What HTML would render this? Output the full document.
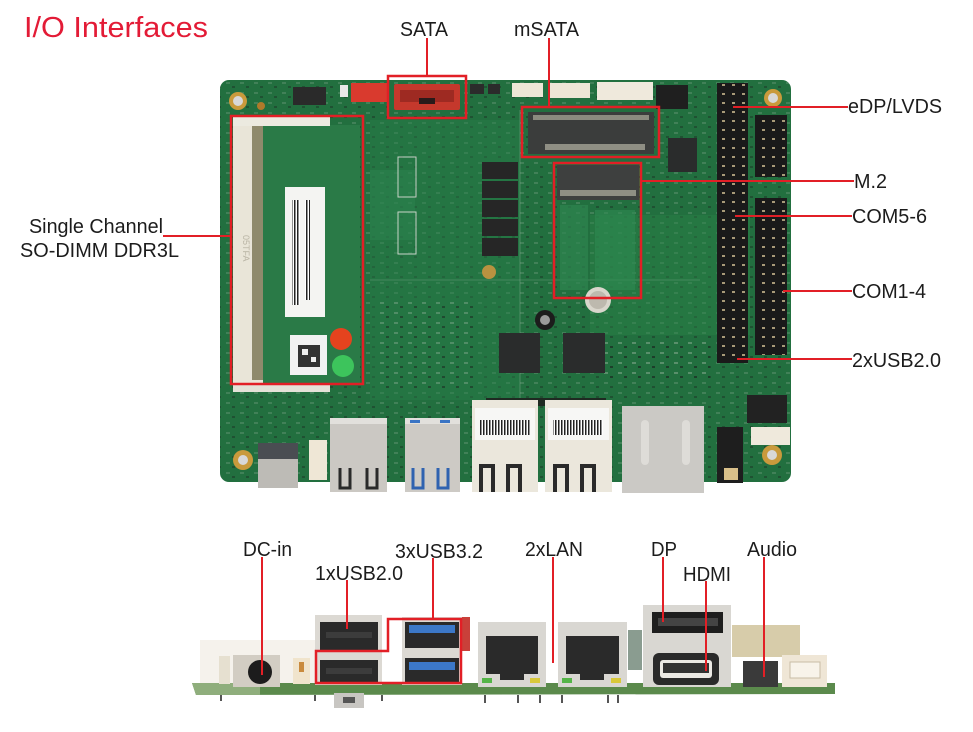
<!DOCTYPE html>
<html><head><meta charset="utf-8"><style>
html,body{margin:0;padding:0;background:#fff;}
svg{display:block;}
text{font-family:"Liberation Sans",Arial,sans-serif;}
</style></head><body>
<svg width="973" height="732" viewBox="0 0 973 732" xmlns="http://www.w3.org/2000/svg">
<defs>
<pattern id="pins" width="10" height="9" patternUnits="userSpaceOnUse">
<rect width="10" height="9" fill="#1a1a1a"/>
<rect x="2" y="3" width="3" height="2" fill="#a89a78"/>
</pattern>
<pattern id="smd" width="14" height="10" patternUnits="userSpaceOnUse">
<rect width="14" height="10" fill="none"/>
<rect x="2" y="2" width="4" height="2" fill="#9fb7a2" opacity="0.25"/>
<rect x="8" y="6" width="3" height="2" fill="#1b1b1b" opacity="0.35"/>
</pattern>
<pattern id="bars" width="3" height="10" patternUnits="userSpaceOnUse">
<rect width="3" height="10" fill="#fff"/>
<rect x="0" y="0" width="1.5" height="10" fill="#222"/>
</pattern>
</defs>
<rect width="973" height="732" fill="#fff"/>

<!-- Title -->
<text x="24" y="37" font-size="29" fill="#e31b36" textLength="184" lengthAdjust="spacingAndGlyphs">I/O Interfaces</text>

<!-- ===== TOP BOARD ===== -->
<rect x="220" y="80" width="571" height="402" rx="9" fill="#226f3f"/>
<rect x="220" y="80" width="571" height="402" rx="9" fill="url(#smd)"/>
<rect x="370" y="120" width="150" height="280" fill="#297d49" opacity="0.45"/>
<rect x="590" y="215" width="160" height="120" fill="#2a8048" opacity="0.45"/>
<rect x="370" y="170" width="45" height="70" fill="#2b8350" opacity="0.5"/>
<rect x="398" y="157" width="18" height="40" fill="none" stroke="#c8d4c8" stroke-width="1"/>
<rect x="398" y="212" width="18" height="42" fill="none" stroke="#c8d4c8" stroke-width="1"/>
<rect x="600" y="340" width="110" height="40" fill="url(#smd)"/>
<rect x="375" y="300" width="100" height="90" fill="url(#smd)"/>
<line x1="520" y1="110" x2="520" y2="400" stroke="#8fb39a" stroke-width="0.8" opacity="0.5"/>
<line x1="370" y1="280" x2="700" y2="280" stroke="#8fb39a" stroke-width="0.8" opacity="0.4"/>

<!-- holes -->
<g>
<circle cx="238" cy="101" r="9" fill="#c99a3c"/><circle cx="238" cy="101" r="5" fill="#d8d8d8"/>
<circle cx="773" cy="98" r="9" fill="#c99a3c"/><circle cx="773" cy="98" r="5" fill="#d8d8d8"/>
<circle cx="243" cy="460" r="10" fill="#c99a3c"/><circle cx="243" cy="460" r="5" fill="#d8d8d8"/>
<circle cx="772" cy="455" r="10" fill="#c99a3c"/><circle cx="772" cy="455" r="5" fill="#d8d8d8"/>
<circle cx="261" cy="106" r="4" fill="#b07a2a"/>
</g>

<!-- DIMM slot & module -->
<rect x="263" y="125" width="97" height="258" fill="#2a7a47"/>
<rect x="233" y="117" width="30" height="268" fill="#e9e5d8"/>
<rect x="252" y="125" width="11" height="255" fill="#8f8a6c"/>
<rect x="233" y="117" width="97" height="9" fill="#eceae0"/>
<rect x="233" y="383" width="97" height="9" fill="#e4e2d8"/>
<text x="238" y="240" font-size="9" fill="#b9b4a4" transform="rotate(90 243 240)">05TFA</text>
<rect x="285" y="187" width="40" height="130" fill="#f4f4f2"/>
<rect x="292" y="200" width="8" height="105" fill="url(#bars)"/>
<rect x="305" y="200" width="5" height="100" fill="url(#bars)"/>
<rect x="290" y="335" width="37" height="40" fill="#f2f2f2"/>
<rect x="298" y="345" width="22" height="22" fill="#333"/>
<rect x="302" y="349" width="6" height="6" fill="#eee"/>
<rect x="311" y="357" width="5" height="5" fill="#eee"/>
<circle cx="341" cy="339" r="11" fill="#e5431e"/>
<circle cx="343" cy="366" r="11" fill="#3dc45c"/>

<!-- top connectors -->
<rect x="293" y="87" width="33" height="18" fill="#2a2a2a"/>
<rect x="340" y="85" width="8" height="12" fill="#e8e8e8"/>
<rect x="351" y="83" width="38" height="19" fill="#d93a2e"/>
<rect x="394" y="84" width="66" height="26" fill="#c5382c" rx="2"/>
<rect x="400" y="90" width="54" height="12" fill="#9e2a22"/>
<rect x="419" y="98" width="16" height="6" fill="#2a1a1a"/>
<rect x="470" y="84" width="14" height="10" fill="#2b2b2b"/>
<rect x="488" y="84" width="12" height="10" fill="#2b2b2b"/>
<rect x="512" y="83" width="31" height="14" fill="#ede6d6"/>
<rect x="550" y="83" width="40" height="15" fill="#ede6d6"/>
<rect x="597" y="82" width="56" height="18" fill="#efe9dc"/>
<rect x="656" y="85" width="32" height="24" fill="#1f1f1f"/>

<!-- mSATA slot -->
<rect x="528" y="112" width="126" height="42" fill="#3b3d3c"/>
<rect x="533" y="115" width="116" height="5" fill="#8b8b7f"/>
<rect x="545" y="144" width="100" height="6" fill="#8f8f84"/>
<!-- M.2 slot -->
<rect x="557" y="165" width="82" height="35" fill="#3e403f"/>
<rect x="560" y="190" width="76" height="6" fill="#8f8f84"/>
<rect x="560" y="205" width="28" height="85" fill="#2d8450" opacity="0.7"/>
<rect x="595" y="210" width="40" height="80" fill="#2f8a52" opacity="0.6"/>

<!-- inductors -->
<g fill="#262626">
<rect x="482" y="162" width="36" height="17"/>
<rect x="482" y="181" width="36" height="17"/>
<rect x="482" y="200" width="36" height="17"/>
<rect x="482" y="219" width="36" height="17"/>
<rect x="482" y="238" width="36" height="18"/>
</g>
<!-- chips -->
<rect x="499" y="333" width="41" height="40" fill="#2a2c2c"/>
<rect x="563" y="333" width="42" height="40" fill="#2a2c2c"/>
<rect x="668" y="138" width="29" height="34" fill="#2a2c2c"/>
<circle cx="598" cy="300" r="13" fill="#d9d6cc"/><circle cx="598" cy="300" r="9" fill="#bdb9ae"/>
<circle cx="545" cy="320" r="10" fill="#1c1c1c"/><circle cx="545" cy="320" r="5" fill="#9a9a9a"/>
<circle cx="489" cy="272" r="7" fill="#b89240"/>
<rect x="486" y="398" width="120" height="8" fill="#1f2a22"/>

<!-- right headers -->
<rect x="717" y="83" width="31" height="280" fill="url(#pins)"/>
<rect x="755" y="198" width="32" height="157" fill="url(#pins)"/>
<rect x="755" y="115" width="32" height="62" fill="url(#pins)"/>
<rect x="747" y="395" width="40" height="28" fill="#222"/>

<!-- bottom edge of board components -->
<rect x="258" y="443" width="40" height="45" fill="#bdbbb6"/>
<rect x="258" y="443" width="40" height="16" fill="#4a4d52"/>
<rect x="309" y="440" width="18" height="40" fill="#efe7d6"/>
<!-- USB2 -->
<rect x="330" y="418" width="57" height="74" fill="#cbc8c3"/>
<rect x="330" y="418" width="57" height="6" fill="#e2e0dc"/>
<path d="M340 468 v20 h10 v-20" fill="none" stroke="#2a2a2a" stroke-width="3"/>
<path d="M367 468 v20 h10 v-20" fill="none" stroke="#2a2a2a" stroke-width="3"/>
<!-- USB3 -->
<rect x="405" y="418" width="55" height="74" fill="#cdcac5"/>
<rect x="405" y="418" width="55" height="6" fill="#e2e0dc"/>
<rect x="410" y="420" width="10" height="3" fill="#3a74c4"/><rect x="440" y="420" width="10" height="3" fill="#3a74c4"/>
<path d="M413 468 v20 h10 v-20" fill="none" stroke="#2f62b0" stroke-width="3"/>
<path d="M438 468 v20 h10 v-20" fill="none" stroke="#2f62b0" stroke-width="3"/>
<!-- LAN -->
<rect x="472" y="400" width="66" height="92" fill="#ebe7dc"/>
<rect x="475" y="408" width="60" height="32" fill="#f7f7f5"/>
<rect x="480" y="420" width="50" height="15" fill="url(#bars)"/>
<path d="M481 492 v-26 h12 v26" fill="none" stroke="#2a2a2a" stroke-width="4"/>
<path d="M508 492 v-26 h12 v26" fill="none" stroke="#2a2a2a" stroke-width="4"/>
<rect x="545" y="400" width="67" height="92" fill="#ebe7dc"/>
<rect x="548" y="408" width="61" height="32" fill="#f7f7f5"/>
<rect x="553" y="420" width="50" height="15" fill="url(#bars)"/>
<path d="M555 492 v-26 h12 v26" fill="none" stroke="#2a2a2a" stroke-width="4"/>
<path d="M582 492 v-26 h12 v26" fill="none" stroke="#2a2a2a" stroke-width="4"/>
<!-- DP/HDMI -->
<rect x="622" y="406" width="82" height="87" fill="#cbc9c5"/>
<rect x="641" y="420" width="8" height="45" rx="4" fill="#dedcd8"/>
<rect x="682" y="420" width="8" height="45" rx="4" fill="#dedcd8"/>
<!-- audio -->
<rect x="717" y="427" width="26" height="56" fill="#1e1e1e"/>
<rect x="724" y="468" width="14" height="12" fill="#d9c08a"/>
<rect x="751" y="427" width="39" height="18" fill="#efe9dc"/>

<!-- ===== BOTTOM FRONT VIEW ===== -->
<rect x="200" y="640" width="120" height="45" fill="#f1ede4" opacity="0.7"/>
<polygon points="192,683 835,683 835,694 196,695" fill="#5b8a4c"/>
<polygon points="192,683 260,683 260,695 196,695" fill="#8fae7c"/>
<g stroke="#555" stroke-width="2">
<line x1="221" y1="695" x2="221" y2="701"/><line x1="315" y1="695" x2="315" y2="701"/>
<line x1="382" y1="695" x2="382" y2="701"/><line x1="485" y1="695" x2="485" y2="703"/>
<line x1="518" y1="695" x2="518" y2="703"/><line x1="540" y1="695" x2="540" y2="703"/>
<line x1="562" y1="695" x2="562" y2="703"/><line x1="608" y1="695" x2="608" y2="703"/>
<line x1="618" y1="695" x2="618" y2="703"/>
</g>
<rect x="334" y="693" width="30" height="15" fill="#c8c6c2"/>
<rect x="343" y="697" width="12" height="6" fill="#555"/>
<rect x="219" y="656" width="11" height="28" fill="#e6e0d0"/>
<rect x="233" y="655" width="47" height="32" fill="#d2cdc3"/>
<circle cx="260" cy="672" r="12" fill="#1c1c1c"/>
<rect x="293" y="658" width="17" height="26" fill="#f0e4cc"/>
<rect x="299" y="662" width="5" height="10" fill="#c98a3c"/>
<!-- USB2 stack -->
<rect x="315" y="615" width="67" height="70" fill="#dcd9d3"/>
<rect x="320" y="622" width="58" height="28" fill="#2a2a2a"/>
<rect x="320" y="660" width="58" height="24" fill="#2a2a2a"/>
<rect x="326" y="632" width="46" height="6" fill="#3c3c3c"/>
<rect x="326" y="668" width="46" height="6" fill="#3c3c3c"/>
<!-- USB3 stack -->
<rect x="402" y="617" width="60" height="68" fill="#dcd9d3"/>
<rect x="462" y="617" width="8" height="34" fill="#c9403a"/>
<rect x="405" y="622" width="54" height="26" fill="#2a2a2a"/>
<rect x="409" y="625" width="46" height="8" fill="#3c78c8"/>
<rect x="405" y="658" width="54" height="26" fill="#2a2a2a"/>
<rect x="409" y="662" width="46" height="8" fill="#3c78c8"/>
<!-- LAN jacks -->
<rect x="478" y="622" width="68" height="65" fill="#d9d7d2"/>
<rect x="486" y="636" width="52" height="38" fill="#2a2a2a"/>
<rect x="500" y="674" width="24" height="6" fill="#2a2a2a"/>
<rect x="482" y="678" width="10" height="5" fill="#55b548"/><rect x="530" y="678" width="10" height="5" fill="#d8c83a"/>
<rect x="558" y="622" width="69" height="65" fill="#d9d7d2"/>
<rect x="566" y="636" width="53" height="38" fill="#2a2a2a"/>
<rect x="580" y="674" width="24" height="6" fill="#2a2a2a"/>
<rect x="562" y="678" width="10" height="5" fill="#55b548"/><rect x="611" y="678" width="10" height="5" fill="#d8c83a"/>
<rect x="628" y="630" width="14" height="40" fill="#3c5a46" opacity="0.6"/>
<!-- DP/HDMI -->
<rect x="643" y="605" width="88" height="82" fill="#d9d7d2"/>
<rect x="652" y="612" width="71" height="21" fill="#1e1e1e"/>
<rect x="658" y="618" width="60" height="8" fill="#444"/>
<rect x="653" y="653" width="66" height="32" rx="6" fill="#2a2a2a"/>
<rect x="660" y="660" width="52" height="18" rx="3" fill="#ebe9e4"/>
<rect x="663" y="663" width="46" height="10" fill="#333"/>
<rect x="732" y="625" width="68" height="32" fill="#cdbf95" opacity="0.8"/>
<rect x="743" y="661" width="35" height="26" fill="#3a3a3a"/>
<rect x="782" y="655" width="45" height="32" fill="#efe6d6"/>
<rect x="790" y="662" width="30" height="16" fill="#f8f3ea" stroke="#c8bca6" stroke-width="1"/>

<!-- ===== RED CALLOUTS ===== -->
<g stroke="#e21f26" stroke-width="2.5" fill="none">
<rect x="388" y="76" width="78" height="42"/>
<rect x="522" y="107" width="137" height="50"/>
<rect x="554" y="163" width="87" height="135"/>
<rect x="231" y="116" width="132" height="268"/>
<polygon points="388,619 461,619 461,683 316,683 316,651 388,651"/>
</g>
<g stroke="#e21f26" stroke-width="2" fill="none">
<line x1="427" y1="38" x2="427" y2="76"/>
<line x1="549" y1="38" x2="549" y2="107"/>
<line x1="733" y1="107" x2="848" y2="107"/>
<line x1="641" y1="181" x2="854" y2="181"/>
<line x1="735" y1="216" x2="852" y2="216"/>
<line x1="783" y1="291" x2="852" y2="291"/>
<line x1="737" y1="359" x2="852" y2="359"/>
<line x1="163" y1="236" x2="231" y2="236"/>
<line x1="262" y1="557" x2="262" y2="675"/>
<line x1="347" y1="580" x2="347" y2="629"/>
<line x1="433" y1="558" x2="433" y2="619"/>
<line x1="553" y1="557" x2="553" y2="663"/>
<line x1="663" y1="557" x2="663" y2="622"/>
<line x1="706" y1="581" x2="706" y2="671"/>
<line x1="764" y1="557" x2="764" y2="677"/>
</g>

<!-- ===== LABELS ===== -->
<g font-size="20" fill="#1c1c1c">
<text x="400" y="36" textLength="48" lengthAdjust="spacingAndGlyphs">SATA</text>
<text x="514" y="36" textLength="65" lengthAdjust="spacingAndGlyphs">mSATA</text>
<text x="848" y="113" textLength="94" lengthAdjust="spacingAndGlyphs">eDP/LVDS</text>
<text x="854" y="188" textLength="33" lengthAdjust="spacingAndGlyphs">M.2</text>
<text x="852" y="223" textLength="75" lengthAdjust="spacingAndGlyphs">COM5-6</text>
<text x="852" y="298" textLength="74" lengthAdjust="spacingAndGlyphs">COM1-4</text>
<text x="852" y="367" textLength="89" lengthAdjust="spacingAndGlyphs">2xUSB2.0</text>
<text x="29" y="233" textLength="134" lengthAdjust="spacingAndGlyphs">Single Channel</text>
<text x="20" y="257" textLength="159" lengthAdjust="spacingAndGlyphs">SO-DIMM DDR3L</text>
<text x="243" y="556" textLength="49" lengthAdjust="spacingAndGlyphs">DC-in</text>
<text x="315" y="580" textLength="88" lengthAdjust="spacingAndGlyphs">1xUSB2.0</text>
<text x="395" y="558" textLength="88" lengthAdjust="spacingAndGlyphs">3xUSB3.2</text>
<text x="525" y="556" textLength="58" lengthAdjust="spacingAndGlyphs">2xLAN</text>
<text x="651" y="556" textLength="26" lengthAdjust="spacingAndGlyphs">DP</text>
<text x="683" y="581" textLength="48" lengthAdjust="spacingAndGlyphs">HDMI</text>
<text x="747" y="556" textLength="50" lengthAdjust="spacingAndGlyphs">Audio</text>
</g>
</svg>
</body></html>
